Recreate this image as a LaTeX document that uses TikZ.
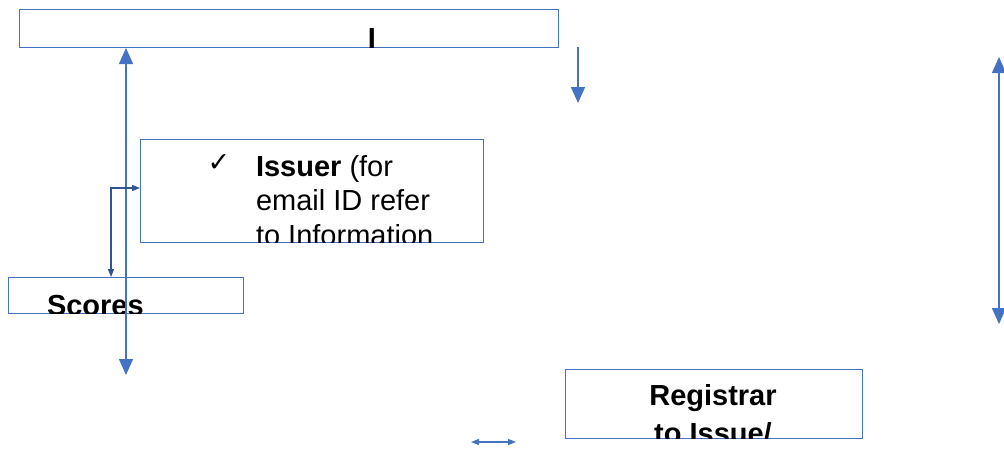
\documentclass[tikz,border=0pt]{standalone}
\usepackage{fontspec}
\setmainfont{Liberation Sans}
\newfontfamily\symfont{DejaVu Sans}
\usetikzlibrary{arrows.meta}
\definecolor{boxblue}{HTML}{4472C4}
\definecolor{darkblue}{HTML}{2F5597}
\tikzset{
  box/.style={draw=boxblue, line width=0.9pt, anchor=north west, inner sep=0pt, outer sep=0pt},
  bigarrow/.style={draw=boxblue, line width=1.4pt, {Triangle[width=14pt,length=16pt]}-{Triangle[width=14pt,length=16pt]}},
  downarrow/.style={draw=boxblue, line width=1.4pt, -{Triangle[width=14pt,length=16pt]}},
  thinarrow/.style={draw=darkblue, line width=1.1pt, {Triangle[width=6pt,length=8pt]}-{Triangle[width=6pt,length=8pt]}},
  smallarrow/.style={draw=boxblue, line width=1.1pt, {Triangle[width=6pt,length=8pt]}-{Triangle[width=6pt,length=8pt]}},
  txt/.style={inner sep=0pt, outer sep=0pt, font=\fontsize{29}{34}\selectfont},
}
\begin{document}
\begin{tikzpicture}[x=1pt,y=-1pt]
\useasboundingbox (0,0) rectangle (1004,450);
% boxes
\node[box, minimum width=539pt, minimum height=38pt] (top) at (19,9) {};
\node[box, minimum width=343pt, minimum height=103pt] (issuer) at (140,139) {};
\node[box, minimum width=235pt, minimum height=36pt] (scores) at (8,277) {};
\node[box, minimum width=297pt, minimum height=69pt] (registrar) at (565,369) {};
% clipped texts
\begin{scope}
\clip (19,9) rectangle (558,47);
\node[txt, anchor=base] (toptext) at (372,48) {\bfseries I};
\end{scope}
\begin{scope}
\clip (140,139) rectangle (483,242);
\node[txt, anchor=base] (check) at (219,171) {\symfont\fontsize{27}{30}\selectfont ✓};
\node[txt, anchor=base west] (iss1) at (256,176) {\textbf{Issuer} (for};
\node[txt, anchor=base west] (iss2) at (256,210) {email ID refer};
\node[txt, anchor=base west] (iss3) at (256,245) {to Information};
\end{scope}
\begin{scope}
\clip (8,277) rectangle (243,313);
\node[txt, anchor=base west] (scorestext) at (47,315) {\bfseries Scores};
\end{scope}
\begin{scope}
\clip (565,369) rectangle (862,438);
\node[txt, anchor=base] (reg1) at (713,405) {\bfseries Registrar};
\node[txt, anchor=base] (reg2) at (713,443) {\bfseries to Issue/};
\end{scope}
% connector coordinates
\coordinate (a1) at (126,48);
\coordinate (a2) at (126,375);
\coordinate (d1) at (578,47);
\coordinate (d2) at (578,103);
\coordinate (r1) at (999,57);
\coordinate (r2) at (999,324);
\coordinate (e1) at (111,277);
\coordinate (e2) at (140,188);
\coordinate (s1) at (471,442);
\coordinate (s2) at (516,442);
% connectors
\draw[bigarrow] (a1) -- (a2);
\draw[downarrow] (d1) -- (d2);
\draw[bigarrow] (r1) -- (r2);
\draw[thinarrow] (e1) |- (e2);
\draw[smallarrow] (s1) -- (s2);
\end{tikzpicture}
\end{document}
